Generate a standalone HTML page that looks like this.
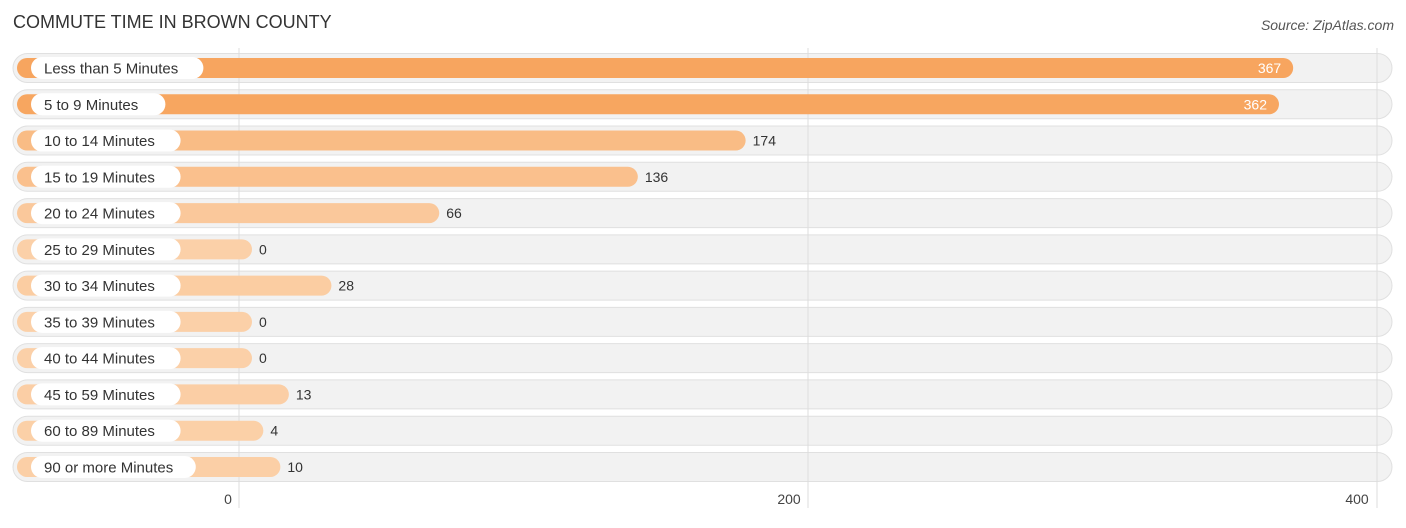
<!DOCTYPE html>
<html><head><meta charset="utf-8"><style>
body{margin:0;background:#fff;font-family:"Liberation Sans",sans-serif;}
svg text{font-family:"Liberation Sans",sans-serif;}
</style></head><body>
<svg id="c" width="1406" height="523" xmlns="http://www.w3.org/2000/svg">
<text x="13" y="28" font-size="18" fill="#333">COMMUTE TIME IN BROWN COUNTY</text>
<text x="1394" y="30" font-size="14" fill="#555" font-style="italic" text-anchor="end">Source: ZipAtlas.com</text>
<g id="bgs"></g><g id="grid"></g><g id="rows"></g><g id="ticks"></g>
</svg>
<script>
const categories=["Less than 5 Minutes","5 to 9 Minutes","10 to 14 Minutes","15 to 19 Minutes","20 to 24 Minutes","25 to 29 Minutes","30 to 34 Minutes","35 to 39 Minutes","40 to 44 Minutes","45 to 59 Minutes","60 to 89 Minutes","90 or more Minutes"];
const values=[367,362,174,136,66,0,28,0,0,13,4,10];
const tickValues=[0,200,400];
const tickLabels=["0","200","400"];
const NS="http://www.w3.org/2000/svg";
const x0=239,k=(1377-239)/400;
const xs=v=>x0+v*k;
const barEnd=v=>252+v*2.837;
const rowY=i=>68+i*36.27;
function mk(t,a,p){const e=document.createElementNS(NS,t);for(const n in a)e.setAttribute(n,a[n]);p.appendChild(e);return e;}
const bgs=document.getElementById('bgs'),grid=document.getElementById('grid'),rows=document.getElementById('rows'),ticks=document.getElementById('ticks');
const maxV=Math.max(...values);
function col(v){const t=v/maxV;const a=[251,208,168],b=[247,165,95];return `rgb(${a.map((c,i)=>Math.round(c+(b[i]-c)*t)).join(',')})`;}
categories.forEach((c,i)=>{
 const y=rowY(i);
 const bg=mk('rect',{x:13,y:y-14.5,width:1379,height:29,rx:14.5,fill:'#f2f2f2',stroke:'#e0e0e0','stroke-width':1},bgs);
 
 
 const g=mk('g',{},rows);
 
 
 const bar=mk('rect',{x:17,y:y-10,width:barEnd(values[i])-17,height:20,rx:10,fill:col(values[i])},g);
 
 
 const lw=c.length*7.6+28;
 const pill=mk('rect',{x:31,y:y-11,width:lw,height:22,rx:11,fill:'#fff'},g);
 
 
 const lt=mk('text',{x:44,y:y+5.5,'font-size':15,fill:'#333'},g);lt.textContent=c;
 
 
 const inside=values[i]>300;
 const vt=mk('text',{x:inside?barEnd(values[i])-12:barEnd(values[i])+7,y:y+5,'font-size':14,fill:inside?'#fff':'#333','text-anchor':inside?'end':'start'},g);
 vt.textContent=values[i];
 
 
});
tickValues.forEach((v,i)=>{
 const l=mk('line',{x1:xs(v),x2:xs(v),y1:48,y2:508,stroke:'#ddd','stroke-width':1},grid);
 
 
 const t=mk('text',{x:xs(v)+(i==0?-11:i==2?-20:-19),y:504,'font-size':14,fill:'#444','text-anchor':'middle'},ticks);
 t.textContent=tickLabels[i];
 
 
});
</script>
</body></html>
